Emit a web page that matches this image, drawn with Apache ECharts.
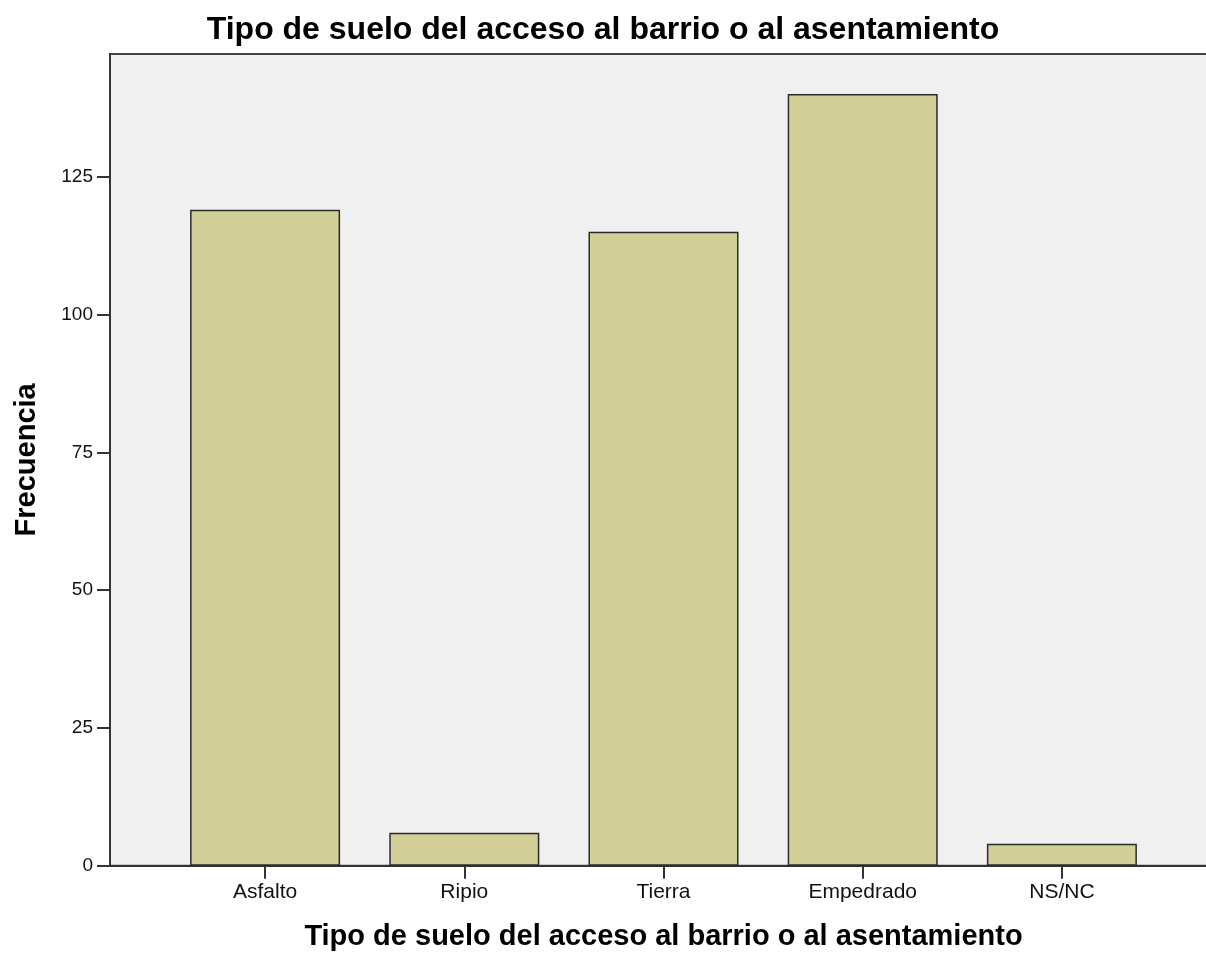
<!DOCTYPE html>
<html>
<head>
<meta charset="utf-8">
<script src="https://cdn.jsdelivr.net/npm/echarts@6/dist/echarts.min.js"></script>
<style>
html,body{margin:0;padding:0;background:#fff;}
#chart{width:1206px;height:955px;}
</style>
</head>
<body>
<div id="chart"></div>
<script>
const chartTitle = 'Tipo de suelo del acceso al barrio o al asentamiento';
const xAxisTitle = 'Tipo de suelo del acceso al barrio o al asentamiento';
const yAxisTitle = 'Frecuencia';
const categories = ['Asfalto', 'Ripio', 'Tierra', 'Empedrado', 'NS/NC'];
const frequencies = [119, 6, 115, 140, 4];
const yTicks = [0, 25, 50, 75, 100, 125];

const FONT = "'Liberation Sans', Arial, sans-serif";
const catIdx = categories.map((c, i) => i);

const chart = echarts.init(document.getElementById('chart'), null, {renderer: 'canvas'});
chart.setOption({
  animation: false,
  backgroundColor: '#ffffff',
  title: {
    text: chartTitle,
    left: 'center',
    top: 9,
    textStyle: {fontFamily: FONT, fontSize: 32, fontWeight: 'bold', color: '#000'}
  },
  grid: {
    left: 110,
    top: 54,
    width: 1107,
    height: 811.7,
    outerBoundsMode: 'none',
    containLabel: false,
    show: true,
    backgroundColor: '#f0f0f0',
    borderColor: '#444',
    borderWidth: 2
  },
  xAxis: {
    type: 'value',
    min: -0.7786,
    max: 4.7786,
    name: xAxisTitle,
    nameLocation: 'middle',
    nameGap: 57,
    nameTextStyle: {fontFamily: FONT, fontSize: 29, fontWeight: 'bold', color: '#000'},
    axisLine: {show: true, onZero: false, lineStyle: {color: '#333', width: 2}},
    axisTick: {show: true, length: 13, customValues: catIdx, lineStyle: {color: '#333', width: 2}},
    axisLabel: {
      customValues: catIdx,
      margin: 16,
      fontFamily: FONT, fontSize: 21, color: '#111',
      formatter: v => categories[Math.round(v)]
    },
    splitLine: {show: false}
  },
  yAxis: {
    type: 'value',
    min: 0,
    max: 147.26,
    interval: 25,
    name: yAxisTitle,
    nameLocation: 'middle',
    nameGap: 69,
    nameRotate: 90,
    nameTextStyle: {fontFamily: FONT, fontSize: 29, fontWeight: 'bold', color: '#000'},
    axisLine: {show: true, onZero: false, lineStyle: {color: '#333', width: 2}},
    axisTick: {show: true, length: 13, customValues: yTicks, lineStyle: {color: '#333', width: 2}},
    axisLabel: {customValues: yTicks, margin: 17, fontFamily: FONT, fontSize: 19, color: '#111'},
    splitLine: {show: false}
  },
  series: [{
    type: 'bar',
    barWidth: 150,
    data: categories.map((c, i) => [i, frequencies[i]]),
    itemStyle: {color: '#d3cf98', borderColor: '#2b2b2b', borderWidth: 1.5}
  }]
});
</script>
</body>
</html>
